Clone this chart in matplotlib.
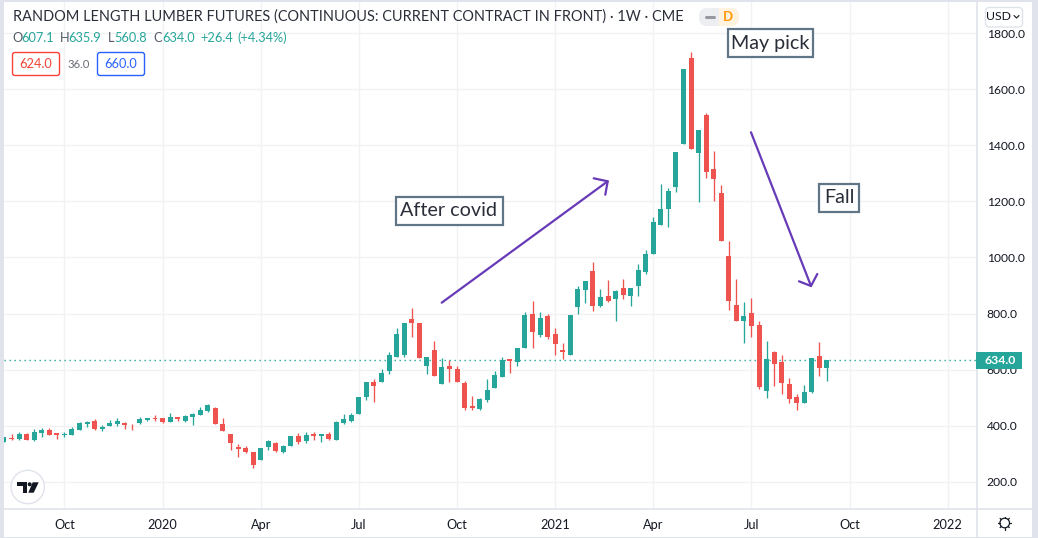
import numpy as np
import matplotlib
matplotlib.use('Agg')
import matplotlib.pyplot as plt
from matplotlib.lines import Line2D
from matplotlib.patches import Rectangle, Circle, Polygon, FancyBboxPatch
from matplotlib.transforms import Affine2D

# weekly candles
opens=[343,357,354,372,350,376,385,375,366,368,386,407,418,389,400,407,411,407,411,421,
       428,428,414,432,418,433,439,453,464,407,372,325,322,308,279,325,340,308,329,365,
       347,372,362,372,350,411,418,442,502,555,555,594,647,654,779,765,612,672,548,612,
       601,552,470,459,491,534,573,637,626,679,800,722,793,729,672,654,825,885,952,828,
       864,853,890,862,897,947,1011,1117,1174,1252,1405,1710,1373,1508,1316,1231,1007,830,773,801,
       758,523,662,626,548,501,483,519,648,607.1]
highs=[360,370,379,375,389,393,393,375,379,396,414,418,425,402,421,428,414,407,432,428,
       439,428,446,432,439,446,467,478,467,428,372,336,329,308,322,350,343,333,365,375,
       379,379,372,379,418,443,446,502,555,566,601,662,750,765,821,765,644,701,640,633,
       612,559,505,498,566,594,644,637,679,804,846,807,800,750,694,796,899,917,984,889,
       920,885,922,890,975,1025,1146,1263,1249,1377,1671,1732,1455,1515,1380,1259,1060,923,840,855,
       773,701,666,651,569,512,544,641,698,635.9]
lows=[343,351,351,348,347,361,366,354,359,366,386,396,386,383,400,400,389,386,407,419,
      419,411,414,419,414,404,439,450,407,382,315,290,304,251,279,315,308,304,329,336,
      340,350,343,350,350,407,414,442,492,484,555,584,644,647,715,640,584,576,548,555,
      555,456,456,456,484,534,573,587,615,679,679,715,711,654,637,651,800,839,811,825,
      842,775,851,826,862,940,1011,1117,1110,1235,1405,1387,1199,1284,1203,1057,812,773,694,716,
      533,498,541,512,480,458,483,516,576,560.8]
closes=[360,354,372,350,379,386,368,366,372,389,411,414,389,396,411,418,404,405,425,427,
        425,414,432,425,435,443,457,475,407,382,340,318,307,262,322,347,311,329,365,343,
        368,365,372,354,414,425,439,502,555,541,587,651,729,765,765,640,644,576,608,601,
        555,463,463,495,527,580,633,630,679,796,733,786,715,690,662,796,889,917,828,860,
        846,881,865,890,954,1014,1128,1171,1238,1377,1671,1387,1455,1306,1281,1057,844,773,790,755,
        537,637,619,551,494,480,519,641,605,634.0]

price_ticks=[200,400,600,800,1000,1200,1400,1600,1800]
date_ticks=[8,21,34,47,60,73,86,99,112,125]
date_labels=['Oct','2020','Apr','Jul','Oct','2021','Apr','Jul','Oct','2022']
last_price=634.0

FONT='Lato'
plt.rcParams['font.family']=FONT
UP='#26a69a'
DOWN='#ef5350'
GRID='#f1f2f4'
BORDER='#e0e3eb'
INK='#131722'
PURPLE='#673ab7'
SLATE='#607585'

W,H=1038,538
fig=plt.figure(figsize=(W/100,H/100),dpi=100,facecolor=BORDER)
# transform for things placed in image pixels, y going down
px=Affine2D().scale(1,-1).translate(0,H)

fig.add_artist(Rectangle((4,2),1028,535,transform=px,facecolor='white',edgecolor='none',zorder=-1))

ax=fig.add_axes([4/W,1-509/H,973/W,507/H],facecolor='white')
ax.set_xlim(0,128.87)
ax.set_ylim(103.6,1910.5)

x=np.arange(len(opens))
o=np.array(opens);h=np.array(highs);l=np.array(lows);c=np.array(closes)
colors=[UP if c[i]>=o[i] else DOWN for i in x]
ax.vlines(x,l,h,colors=colors,linewidth=0.95,zorder=3)
ax.bar(x,np.abs(c-o),bottom=np.minimum(o,c),width=0.66,color=colors,linewidth=0,zorder=4)
ax.axhline(last_price,color=UP,linestyle=(0,(1,2.6)),linewidth=1,zorder=2)

ax.set_xticks(date_ticks)
ax.set_xticklabels(date_labels)
ax.set_yticks(price_ticks)
ax.set_yticklabels(['%.1f'%p for p in price_ticks])
ax.yaxis.tick_right()
ax.grid(True,color=GRID,linewidth=1)
ax.set_axisbelow(True)
ax.tick_params(length=0,labelcolor=INK)
ax.tick_params(axis='y',pad=7,labelsize=8.7)
ax.tick_params(axis='x',pad=7,labelsize=9.2)
for s in ['top','left']:
    ax.spines[s].set_visible(False)
for s in ['right','bottom']:
    ax.spines[s].set_color(BORDER)
    ax.spines[s].set_linewidth(1.2)

def text(x,y,s,color=INK,size=9,ha='left',**kw):
    return fig.text(x,y,s,transform=px,color=color,fontsize=size,ha=ha,va='center',**kw)

def box(x0,y0,x1,y1,ec,fc='white',lw=1.0,z=5):
    fig.add_artist(Rectangle((x0,y0),x1-x0,y1-y0,transform=px,fc=fc,ec=ec,lw=lw,zorder=z))

def rbox(x0,y0,x1,y1,ec,fc='white',lw=1.0,r=2.5,z=5):
    fig.add_artist(FancyBboxPatch((x0,y0),x1-x0,y1-y0,boxstyle='round,pad=0,rounding_size=%s'%r,
                                  transform=px,fc=fc,ec=ec,lw=lw,zorder=z))

def seg(xs,ys,color,lw=1.0,z=6):
    fig.add_artist(Line2D(xs,ys,transform=px,color=color,lw=lw,zorder=z,solid_capstyle='round'))

# bottom border runs on under the price scale, separator runs down through the date row
seg([977,977],[509,537],BORDER,1.2,1)
seg([977,1032],[509,509],BORDER,1.2,1)

# header
text(13,17,'RANDOM LENGTH LUMBER FUTURES (CONTINUOUS: CURRENT CONTRACT IN FRONT) · 1W · CME',
     color='#2a2e39',size=10.45)
GREY='#555a66'
for xp,s,col in [(12,'O',GREY),(21.5,'607.1',UP),(60,'H',GREY),(68,'635.9',UP),(108,'L',GREY),
                 (114,'560.8',UP),(153,'C',GREY),(162,'634.0',UP),(200,'+26.4',UP),(237,'(+4.34%)',UP)]:
    text(xp,38,s,color=col,size=9.2)

rbox(12.5,52.5,59.5,75.5,'#f44336')
text(36,64,'624.0',color='#f44336',size=9.2,ha='center',zorder=7)
text(79,64,'36.0',color='#6a6d78',size=8.2,ha='center')
rbox(97.5,52.5,144.5,75.5,'#2962ff')
text(121,64,'660.0',color='#2962ff',size=9.2,ha='center',zorder=7)

# status pill
fig.add_artist(FancyBboxPatch((699,8),40,18,boxstyle='round,pad=0,rounding_size=8',transform=px,
                              fc='#eceef1',ec='none',zorder=5))
pill=Rectangle((719,8),20,18,transform=px,fc='#fff3e0',ec='none',zorder=5)
fig.add_artist(pill)
pill.set_clip_path(FancyBboxPatch((699,8),40,18,boxstyle='round,pad=0,rounding_size=8',transform=px))
seg([706,714],[17,17],'#9598a1',2.2)
text(728,17,'D',color='#ff9800',size=9.5,ha='center',fontweight='bold',zorder=7)

# drawings on the chart
box(727.5,29,812.5,57,SLATE,lw=1.6)
text(770,43,'May pick',color='#2a2e39',size=14.2,ha='center',zorder=7)
box(395.5,196.5,503,224.5,SLATE,lw=1.6)
text(449,210,'After covid',color='#2a2e39',size=14.2,ha='center',zorder=7)
box(818.5,183.5,859,211.5,SLATE,lw=1.6)
text(839,197.5,'Fall',color='#2a2e39',size=14.2,ha='center',zorder=7)

seg([441.7,607.7],[302.7,181.3],PURPLE,1.6)
seg([593.7,607.7,605.3],[178.3,181.3,194.7],PURPLE,1.6)
seg([751,811],[132.3,286],PURPLE,1.6)
seg([799,811,817.3],[281.3,286,274],PURPLE,1.6)

# price scale bits
rbox(985.5,7.5,1022.5,27,BORDER,r=4)
text(998.5,17,'USD',color=INK,size=8.8,ha='center',zorder=7)
seg([1014,1016.5,1019],[15.5,18,15.5],INK,0.8)
box(976,352,1022,369,UP,fc=UP,lw=0)
text(1000.5,360.5,'634.0',color='white',size=8.8,ha='center',fontweight='bold',zorder=7)

# logo
fig.add_artist(Circle((27.7,487),16.7,transform=px,fc='white',ec=BORDER,lw=1,zorder=5))
for pts in ([(17.3,482.3),(27.3,482.3),(27.3,492.7),(22.7,492.7),(22.7,486),(17.3,486)],
            [(38.7,482.3),(33.7,492.7),(28.3,492.7),(32.7,482.3)]):
    fig.add_artist(Polygon(pts,closed=True,transform=px,fc=INK,ec='none',zorder=6))
fig.add_artist(Circle((29.7,484.3),2,transform=px,fc=INK,ec='none',zorder=6))

# settings gear
fig.add_artist(Circle((1004.7,523),4.8,transform=px,fc='white',ec=INK,lw=0.9,zorder=5))
for a in np.arange(0,360,45):
    dx,dy=np.cos(np.radians(a)),np.sin(np.radians(a))
    seg([1004.7+4.8*dx,1004.7+6.5*dx],[523+4.8*dy,523+6.5*dy],INK,0.9)

fig.savefig('out.png',dpi=100,facecolor=fig.get_facecolor())
